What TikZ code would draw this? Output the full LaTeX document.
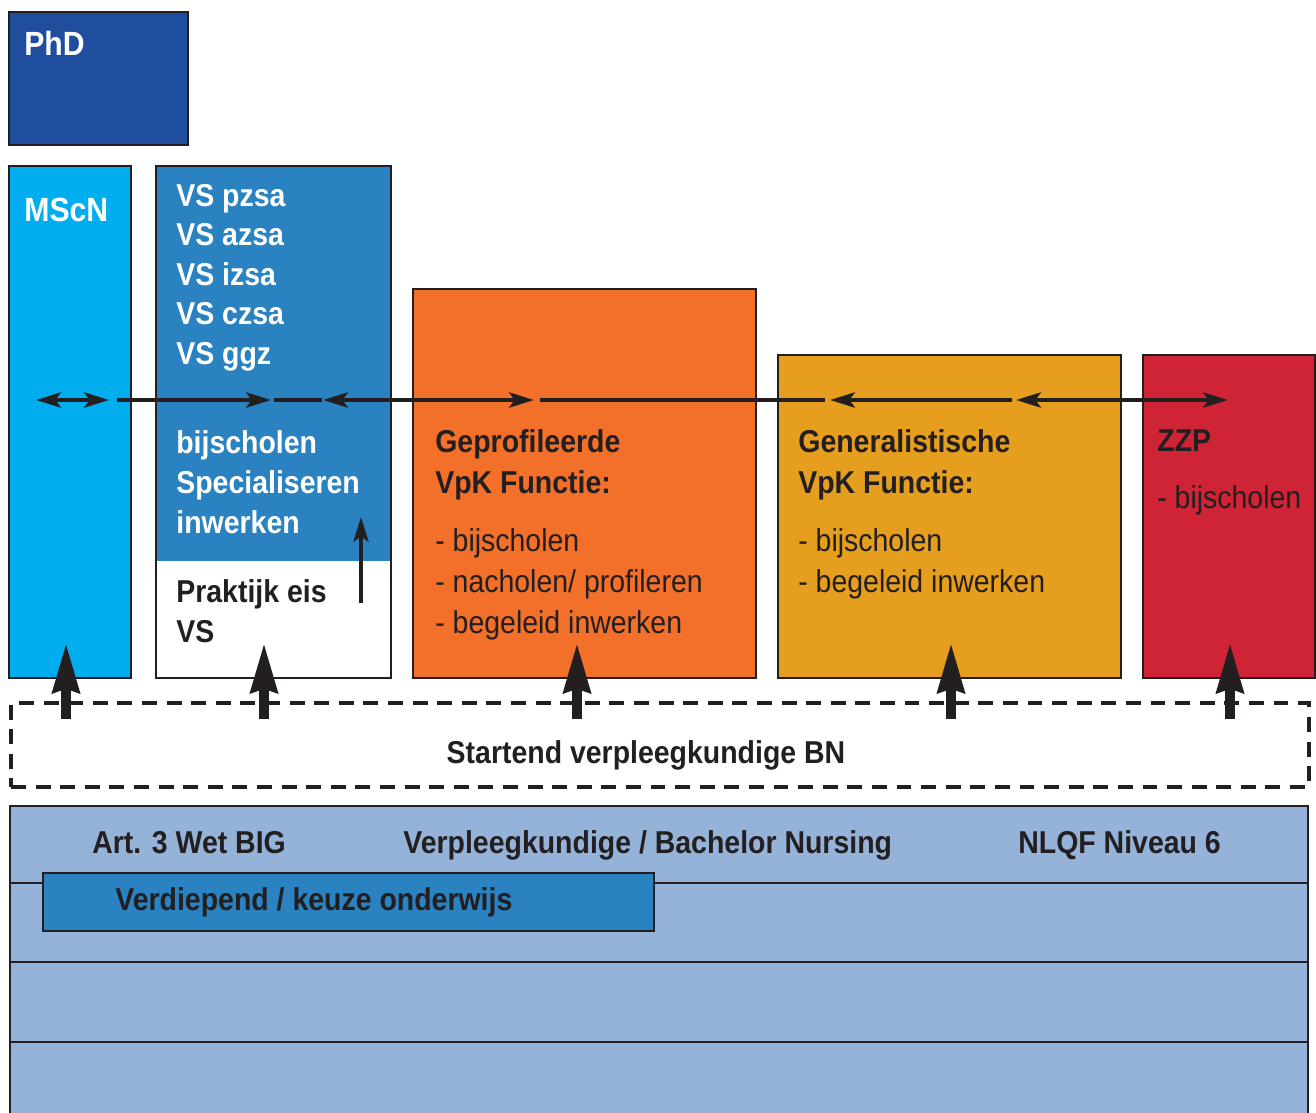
\documentclass[tikz,border=0pt]{standalone}
\usepackage{fontspec}
\setmainfont{Liberation Sans}[FakeStretch=0.9]
\usetikzlibrary{arrows.meta}
\usetikzlibrary{positioning}
\definecolor{ink}{HTML}{231F20}
\definecolor{phdblue}{HTML}{1F4E9F}
\definecolor{mscblue}{HTML}{00AEEF}
\definecolor{vsblue}{HTML}{2A82C0}
\definecolor{geporange}{HTML}{F2702A}
\definecolor{gengold}{HTML}{E59E1E}
\definecolor{zzpred}{HTML}{CF2336}
\definecolor{bnblue}{HTML}{95B3D9}

\begin{document}
\begin{tikzpicture}[x=0.02cm,y=-0.02cm]
	\tikzstyle{every node}+=[inner sep=0pt]
	\tikzstyle{box}=[draw=ink, line width=1.1pt, anchor=north west]
	\tikzstyle{lbl}=[anchor=base west, text=ink, font=\fontsize{18}{21}\selectfont]
	\tikzstyle{hd}=[lbl, font=\bfseries\fontsize{18}{21}\selectfont]
	\tikzstyle{big}=[hd, text=white, font=\bfseries\fontsize{19.1}{22}\selectfont]
	\tikzstyle{flow}=[draw=ink, line width=2.6pt, >={Stealth[length=14pt,width=8.5pt,inset=3pt]}]
	\tikzstyle{lift}=[draw=ink, line width=5.5pt, -{Stealth[length=28pt,width=15pt,inset=2pt]}]
	\useasboundingbox (0,0) rectangle (1316,1113);
	% boxes
	\node [box, fill=phdblue, minimum width=3.58cm, minimum height=2.66cm] (phd) at (8,11) {};
	\node [box, fill=mscblue, minimum width=2.44cm, minimum height=10.24cm] (msc) at (8,165) {};
	\fill [vsblue] (155,165) rectangle (390,561);
	\node [box, minimum width=4.70cm, minimum height=10.24cm] (vs) at (155,165) {};
	\node [box, fill=geporange, minimum width=6.86cm, minimum height=7.78cm] (gep) at (412,288) {};
	\node [box, fill=gengold, minimum width=6.86cm, minimum height=6.46cm] (gen) at (777,354) {};
	\node [box, fill=zzpred, minimum width=3.44cm, minimum height=6.46cm] (zzp) at (1142,354) {};
	\node [box, line width=2.3pt, dash pattern=on 8.5pt off 5.5pt, minimum width=25.96cm, minimum height=1.68cm] (start) at (9,701) {};
	\node [box, fill=bnblue, minimum width=25.96cm, minimum height=6.6cm] (bn) at (9,805) {};
	\draw [ink, line width=1.2pt] (9,883) -- (1307,883);
	\draw [ink, line width=1.2pt] (9,962) -- (1307,962);
	\draw [ink, line width=1.2pt] (9,1042) -- (1307,1042);
	\node [box, fill=vsblue, minimum width=12.22cm, minimum height=1.16cm] (verd) at (42,872) {};
	% texts
	\node [big] (phdt) at (24,55) {PhD};
	\node [big] (msct) at (24,221) {MScN};
	\foreach \t [count=\i] in {VS pzsa,VS azsa,VS izsa,VS czsa,VS ggz}
		\node [hd, text=white] (vs\i) at (176,{206+39.6*(\i-1)}) {\t};
	\node [hd, text=white] (vsb1) at (176,453) {bijscholen};
	\node [hd, text=white] (vsb2) at (176,493) {Specialiseren};
	\node [hd, text=white] (vsb3) at (176,533) {inwerken};
	\node [hd] (pr1) at (176,602) {Praktijk eis};
	\node [hd] (pr2) at (176,642) {VS};
	\node [hd] (gep1) at (435,452) {Geprofileerde};
	\node [hd] (gep2) at (435,493) {VpK Functie:};
	\node [lbl] (gep3) at (435,551) {- bijscholen};
	\node [lbl] (gep4) at (435,592) {- nacholen/ profileren};
	\node [lbl] (gep5) at (435,633) {- begeleid inwerken};
	\node [hd] (gen1) at (798,452) {Generalistische};
	\node [hd] (gen2) at (798,493) {VpK Functie:};
	\node [lbl] (gen3) at (798,551) {- bijscholen};
	\node [lbl] (gen4) at (798,592) {- begeleid inwerken};
	\node [hd] (zzp1) at (1157,451) {ZZP};
	\node [lbl] (zzp2) at (1157,508) {- bijscholen};
	\node [hd, anchor=base] (startt) at (646,763) {Startend verpleegkundige BN};
	\node [hd] (bn1) at (92,853) {Art. 3 Wet BIG};
	\node [hd] (bn2) at (403,853) {Verpleegkundige / Bachelor Nursing};
	\node [hd] (bn3) at (1018,853) {NLQF Niveau 6};
	\node [hd] (verdt) at (115,910) {Verdiepend / keuze onderwijs};
	% horizontal line of moves
	\coordinate (h1) at (36,400);
	\coordinate (h2) at (109,400);
	\coordinate (h3) at (117,400);
	\coordinate (h4) at (271,400);
	\coordinate (h5) at (274,400);
	\coordinate (h6) at (322,400);
	\coordinate (h7) at (323,400);
	\coordinate (h8) at (534,400);
	\coordinate (h9) at (540,400);
	\coordinate (h10) at (825,400);
	\coordinate (h11) at (830,400);
	\coordinate (h12) at (1012,400);
	\coordinate (h13) at (1016,400);
	\coordinate (h14) at (1228,400);
	\draw [flow, <->] (h1) -- (h2);
	\draw [flow, ->] (h3) -- (h4);
	\draw [flow] (h5) -- (h6);
	\draw [flow, <->] (h7) -- (h8);
	\draw [flow] (h9) -- (h10);
	\draw [flow, <-] (h11) -- (h12);
	\draw [flow, <->] (h13) -- (h14);
	\coordinate (p1) at (361,603);
	\coordinate (p2) at (361,517);
	\draw [flow, ->, line width=2.4pt] (p1) -- (p2);
	% arrows up from the start level
	\foreach \x [count=\i] in {66,264,577,951,1230} {
		\coordinate (a\i) at (\x,719);
		\coordinate (b\i) at (\x,643);
		\draw [lift] (a\i) -- (b\i);
	}
\end{tikzpicture}
\end{document}
